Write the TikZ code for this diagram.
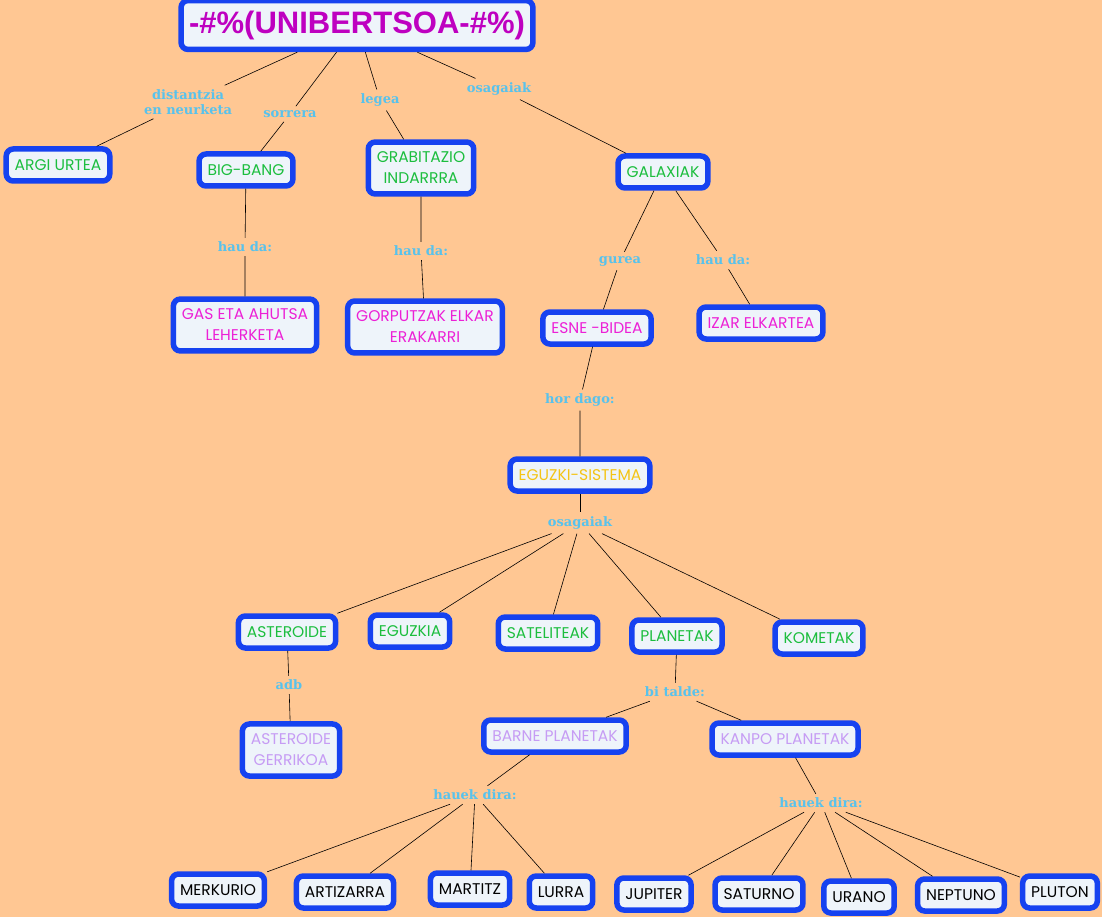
\documentclass[tikz,border=0pt]{standalone}
\usepackage{fontspec}
\usepackage{tikz}
\usetikzlibrary{positioning}
\newfontfamily\conceptfont{Poppins}
\newfontfamily\phrasefont{DejaVu Serif}
\newfontfamily\headfont{Liberation Sans}
\definecolor{bgpeach}{RGB}{255,199,147}
\definecolor{boxblue}{RGB}{22,66,240}
\definecolor{boxfill}{RGB}{238,244,250}
\definecolor{txtgreen}{RGB}{28,190,62}
\definecolor{txtpink}{RGB}{236,32,214}
\definecolor{txtyellow}{RGB}{244,196,22}
\definecolor{txtlilac}{RGB}{198,156,244}
\definecolor{titlemag}{RGB}{190,0,192}
\definecolor{linkblue}{RGB}{88,194,236}

\begin{document}
\begin{tikzpicture}[
    x=1pt, y=-1pt,
    concept/.style = {draw=boxblue, fill=boxfill, line width=5.5pt, rounded corners=7pt, inner xsep=8.5pt, inner ysep=10pt, minimum height=32pt, align=center, font=\conceptfont\fontsize{15.5}{21}\selectfont},
    headbox/.style = {concept, line width=5.5pt, minimum height=41pt, inner xsep=8pt, text=titlemag, font=\headfont\bfseries\fontsize{31}{33}\selectfont},
    phrase/.style  = {inner sep=4pt, align=center, text=linkblue, font=\phrasefont\bfseries\fontsize{13}{15}\selectfont},
    link/.style    = {draw=black, line width=0.6pt}
]
\fill[bgpeach] (0,0) rectangle (1102,917);
\useasboundingbox (0,0) rectangle (1102,917);

% Top
\node (uni) [headbox] at (357,25) {-\#\%(UNIBERTSOA-\#\%)};

% First level
\node (argi)    [concept, text=txtgreen] at (58,165)  {ARGI URTEA};
\node (bigbang) [concept, text=txtgreen] at (246,170) {BIG-BANG};
\node (grabit)  [concept, text=txtgreen] at (421,168) {GRABITAZIO\\INDARRRA};
\node (galax)   [concept, text=txtgreen] at (663,172) {GALAXIAK};

\node (dist)  [phrase] at (188,102) {distantzia\\en neurketa};
\node (sorr)  [phrase] at (290,114) {sorrera};
\node (legea) [phrase] at (380,100) {legea};
\node (osag1) [phrase] at (499,89)  {osagaiak};

% Second level
\node (gas)  [concept, text=txtpink] at (245,325) {GAS ETA AHUTSA\\LEHERKETA};
\node (gorp) [concept, text=txtpink] at (425,327) {GORPUTZAK ELKAR\\ERAKARRI};
\node (esne) [concept, text=txtpink] at (597,328) {ESNE -BIDEA};
\node (izar) [concept, text=txtpink] at (761,323) {IZAR ELKARTEA};

\node (haud1) [phrase] at (245,247) {hau da:};
\node (haud2) [phrase] at (421,251) {hau da:};
\node (gurea) [phrase] at (620,261) {gurea};
\node (haud3) [phrase] at (723,260) {hau da:};

% Solar system
\node (hordago) [phrase] at (580,400) {hor dago:};
\node (eguzsis) [concept, text=txtyellow] at (580,475) {EGUZKI-SISTEMA};
\node (osag2)   [phrase] at (580,523) {osagaiak};

\node (aster)   [concept, text=txtgreen] at (287,632) {ASTEROIDE};
\node (eguzkia) [concept, text=txtgreen] at (410,631) {EGUZKIA};
\node (satel)   [concept, text=txtgreen] at (548,633) {SATELITEAK};
\node (planet)  [concept, text=txtgreen] at (677,636) {PLANETAK};
\node (komet)   [concept, text=txtgreen] at (819,638) {KOMETAK};

\node (adb)     [phrase] at (289,685) {adb};
\node (bitalde) [phrase] at (675,692) {bi talde:};

\node (gerriko) [concept, text=txtlilac] at (291,750) {ASTEROIDE\\GERRIKOA};
\node (barne)   [concept, text=txtlilac] at (555,736) {BARNE PLANETAK};
\node (kanpo)   [concept, text=txtlilac] at (785,739) {KANPO PLANETAK};

% Planets
\node (hauek1) [phrase] at (475,795) {hauek dira:};
\node (hauek2) [phrase] at (821,803) {hauek dira:};

\node (merk)    [concept] at (218,890)  {MERKURIO};
\node (artiz)   [concept] at (345,892)  {ARTIZARRA};
\node (martitz) [concept] at (470,889)  {MARTITZ};
\node (lurra)   [concept] at (561,892)  {LURRA};
\node (jupiter) [concept] at (654,894)  {JUPITER};
\node (saturno) [concept] at (759,894)  {SATURNO};
\node (urano)   [concept] at (859,897)  {URANO};
\node (neptuno) [concept] at (961,895)  {NEPTUNO};
\node (pluton)  [concept] at (1060,892) {PLUTON};

% Links
\draw [link] (uni) -- (dist) -- (argi);
\draw [link] (uni) -- (sorr) -- (bigbang);
\draw [link] (uni) -- (legea) -- (grabit);
\draw [link] (uni) -- (osag1) -- (galax);
\draw [link] (bigbang) -- (haud1) -- (gas);
\draw [link] (grabit) -- (haud2) -- (gorp);
\draw [link] (galax) -- (gurea) -- (esne);
\draw [link] (galax) -- (haud3) -- (izar);
\draw [link] (esne) -- (hordago) -- (eguzsis);
\draw [link] (eguzsis) -- (osag2);
\foreach \n in {aster, eguzkia, satel, planet, komet}
    \draw [link] (osag2) -- (\n);
\draw [link] (aster) -- (adb) -- (gerriko);
\draw [link] (planet) -- (bitalde);
\draw [link] (bitalde) -- (barne);
\draw [link] (bitalde) -- (kanpo);
\draw [link] (barne) -- (hauek1);
\foreach \n in {merk, artiz, martitz, lurra}
    \draw [link] (hauek1) -- (\n);
\draw [link] (kanpo) -- (hauek2);
\foreach \n in {jupiter, saturno, urano, neptuno, pluton}
    \draw [link] (hauek2) -- (\n);

\end{tikzpicture}
\end{document}
